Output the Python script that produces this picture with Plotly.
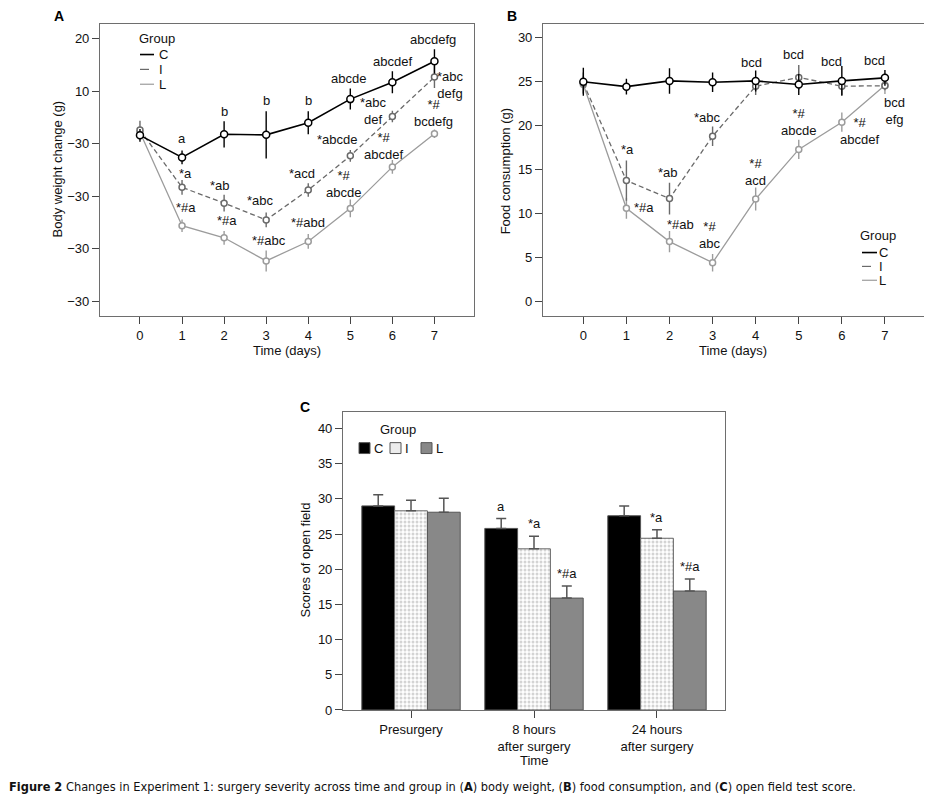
import plotly.graph_objects as go

W, H = 932, 806
FONT = "Liberation Sans, Arial, sans-serif"

# ---------------- data ----------------
groups = ["C", "I", "L"]
days = [0, 1, 2, 3, 4, 5, 6, 7]

# Panel A: body weight change (g)
bw_C = [1.6, -2.6, 1.8, 1.7, 4.0, 8.5, 11.7, 15.7]
bw_C_err = [1.2, 1.3, 2.5, 4.5, 2.2, 2.0, 2.1, 2.3]
bw_I = [2.6, -8.3, -11.3, -14.5, -8.8, -2.3, 5.2, 12.7]
bw_I_err = [1.8, 1.4, 1.6, 1.4, 1.3, 1.1, 1.1, 2.1]
bw_L = [2.2, -15.6, -17.9, -22.3, -18.6, -12.3, -4.4, 1.9]
bw_L_err = [1.0, 1.2, 1.3, 2.0, 1.4, 1.7, 1.3, 0.8]
bw_tickvals = [20, 10, 0, -10, -20, -30]
bw_ticktext = ["20", "10", "\u221230", "\u221230", "\u221230", "\u221230"]
bw_lab_C = ["", "a", "b", "b", "b", "abcde", "abcdef", "abcdefg"]
bw_lab_I = ["", "*a", "*ab", "*abc", "*acd", "*abcde", "*abc<br>def", "*abc<br>defg"]
bw_lab_L = ["", "*#a", "*#a", "*#abc", "*#abd", "*#<br>abcde", "*#<br>abcdef", "*#<br>bcdefg"]

# Panel B: food consumption (g)
fc_C = [25.0, 24.45, 25.1, 24.95, 25.1, 24.7, 25.1, 25.45]
fc_C_err = [1.6, 0.9, 1.45, 1.1, 1.2, 1.2, 1.7, 0.9]
fc_I = [24.85, 13.75, 11.7, 18.8, 24.5, 25.5, 24.5, 24.55]
fc_I_err = [1.2, 2.3, 1.8, 1.1, 1.0, 1.4, 1.0, 0.5]
fc_L = [24.7, 10.6, 6.8, 4.4, 11.65, 17.3, 20.4, 24.6]
fc_L_err = [1.0, 1.2, 1.2, 1.0, 1.3, 1.1, 1.1, 1.0]
fc_lab_I = ["", "*a", "*ab", "*abc", "bcd", "bcd", "bcd", "bcd"]
fc_lab_L = ["", "*#a", "*#ab", "*#<br>abc", "*#<br>acd", "*#<br>abcde", "*#<br>abcdef", "bcd<br>efg"]

# Panel C: open field scores
of_cats = ["Presurgery", "8 hours<br>after surgery", "24 hours<br>after surgery"]
of_C = [29.0, 25.8, 27.6]
of_C_err = [1.6, 1.4, 1.4]
of_I = [28.3, 22.9, 24.4]
of_I_err = [1.5, 1.8, 1.2]
of_L = [28.1, 15.9, 16.9]
of_L_err = [2.0, 1.7, 1.7]
of_lab_C = ["", "a", ""]
of_lab_I = ["", "*a", "*a"]
of_lab_L = ["", "*#a", "*#a"]

# ---------------- styles / label offsets (px) ----------------
COL_C, COL_I, COL_L = "#000000", "#6a6a6a", "#9c9c9c"
sh_bw_C = [(0, 0), (0, 19), (0, 23), (0, 34), (0, 22), (-2, 21), (0, 21), (-1, 22)]
sh_bw_I = [(0, 0), (3, 14), (-4, 18), (-6, 19), (-6, 17), (-13, 16), (-19, 5), (16, -8)]
sh_bw_L = [(0, 0), (4, 18), (3, 17), (3, 20), (0, 19), (-7, 24), (-9, 21), (-1, 21)]
sh_fc_I = [(0, 0), (1, 31), (-2, 26), (-5, 19), (-4, 24), (-5, 23), (-10, 25), (-10, 25)]
sh_fc_L = [(0, 0), (18, 1), (11, 17), (-3, 28), (0, 27), (0, 27), (18, -9), (10, -26)]

# page body margin of the html page (8px) compensated here
OFF = 8


def px(x):
    return (x - OFF) / W


def py(y):
    return 1 - (y - OFF) / H


fig = go.Figure()


def line_trace(x, y, err, color, dash, width, msize, xa, ya):
    fig.add_trace(go.Scatter(
        x=x, y=y, mode="lines+markers", xaxis=xa, yaxis=ya, showlegend=False,
        line=dict(color=color, width=width, dash=dash),
        marker=dict(symbol="circle", size=msize, color="white",
                    line=dict(color=color, width=1.5)),
        error_y=dict(type="data", array=err, visible=True, width=0,
                     thickness=1.4, color=color),
    ))


# Panel A
line_trace(days, bw_L, bw_L_err, COL_L, "solid", 1.3, 6, "x", "y")
line_trace(days, bw_I, bw_I_err, COL_I, "5px,3px", 1.3, 6, "x", "y")
line_trace(days, bw_C, bw_C_err, COL_C, "solid", 1.6, 7, "x", "y")
# Panel B
line_trace(days, fc_L, fc_L_err, COL_L, "solid", 1.3, 6, "x2", "y2")
line_trace(days, fc_I, fc_I_err, COL_I, "5px,3px", 1.3, 6, "x2", "y2")
line_trace(days, fc_C, fc_C_err, COL_C, "solid", 1.6, 7, "x2", "y2")

# Panel C bars
bar_specs = [
    (of_C, of_C_err, dict(color="#000000", line=dict(color="#555555", width=1))),
    (of_I, of_I_err, dict(color="white", line=dict(color="#666666", width=1),
                          pattern=dict(shape=".", fgcolor="#a8a8a8", bgcolor="white",
                                       size=4, solidity=0.45))),
    (of_L, of_L_err, dict(color="#888888", line=dict(color="#555555", width=1))),
]
for vals, errs, mk in bar_specs:
    fig.add_trace(go.Bar(
        x=of_cats, y=vals, xaxis="x3", yaxis="y3", showlegend=False, marker=mk,
        error_y=dict(type="data", array=errs, arrayminus=[0] * len(errs),
                     symmetric=False, visible=True, width=5, thickness=1.5,
                     color="#555555"),
    ))

annotations = []
afont = dict(family=FONT, size=13, color="#111111")


def add_labels(texts, xs, ys, shifts, xr, yr):
    for t, x, y, (dx, dy) in zip(texts, xs, ys, shifts):
        if t:
            annotations.append(dict(x=x, y=y, xref=xr, yref=yr, text=t, showarrow=False,
                                    xshift=dx, yshift=dy, font=afont, align="center"))


add_labels(bw_lab_C, days, bw_C, sh_bw_C, "x", "y")
add_labels(bw_lab_I, days, bw_I, sh_bw_I, "x", "y")
add_labels(bw_lab_L, days, bw_L, sh_bw_L, "x", "y")
add_labels(fc_lab_I, days, fc_I, sh_fc_I, "x2", "y2")
add_labels(fc_lab_L, days, fc_L, sh_fc_L, "x2", "y2")

# bar labels
for labs, vals, errs, off in [(of_lab_C, of_C, of_C_err, -33),
                              (of_lab_I, of_I, of_I_err, 0),
                              (of_lab_L, of_L, of_L_err, 33)]:
    for c, t, v, e in zip(of_cats, labs, vals, errs):
        if t:
            annotations.append(dict(x=c, y=v + e, xref="x3", yref="y3", text=t,
                                    showarrow=False, xshift=off, yshift=3,
                                    yanchor="bottom", font=afont))

# axis titles
tfont = dict(family=FONT, size=13, color="#111111")
for text, x, y, ang in [("Body weight change (g)", 57, 171, -90),
                        ("Food consumption (g)", 505, 173, -90),
                        ("Scores of open field", 305, 566, -90),
                        ("Time (days)", 287, 354, 0),
                        ("Time (days)", 733, 354, 0),
                        ("Time", 534, 768, 0)]:
    annotations.append(dict(x=px(x), y=py(y), xref="paper", yref="paper", text=text,
                            showarrow=False, textangle=ang, font=tfont,
                            xanchor="center", yanchor="middle"))

# panel letters
for t, x, y in [("A", 52, 16), ("B", 505, 16), ("C", 298, 411)]:
    annotations.append(dict(x=px(x), y=py(y), xref="paper", yref="paper",
                            text="<b>%s</b>" % t, showarrow=False, xanchor="left",
                            yanchor="middle", font=dict(family=FONT, size=14, color="#000")))

# caption
annotations.append(dict(
    x=px(7), y=py(794), xref="paper", yref="paper", xanchor="left", yanchor="middle",
    showarrow=False,
    text="<b>Figure 2</b> Changes in Experiment 1: surgery severity across time and group in "
         "(<b>A</b>) body weight, (<b>B</b>) food consumption, and (<b>C</b>) open field test score.",
    font=dict(family="Liberation Sans Narrow, DejaVu Sans Condensed, Arial", size=12.7, color="#111")))

shapes = []
# line legends
for gx, gy, lx0, lx1, tx, ys in [(137, 39, 140, 154, 157, [55, 70, 85]),
                                 (858, 238, 862, 877, 877, [255, 269, 283])]:
    annotations.append(dict(x=px(gx), y=py(gy), xref="paper", yref="paper", text="Group",
                            showarrow=False, xanchor="left", yanchor="middle", font=afont))
    for g, col, dash, yy in zip(groups, [COL_C, COL_I, COL_L], ["solid", "dash", "solid"], ys):
        shapes.append(dict(type="line", xref="paper", yref="paper", x0=px(lx0), x1=px(lx1),
                           y0=py(yy), y1=py(yy), line=dict(color=col, width=1.6 if g == "C" else 1.2,
                                                           dash=dash)))
        annotations.append(dict(x=px(tx), y=py(yy), xref="paper", yref="paper", text=g,
                                showarrow=False, xanchor="left", yanchor="middle", font=afont))

# bar legend
annotations.append(dict(x=px(378), y=py(434), xref="paper", yref="paper", text="Group",
                        showarrow=False, xanchor="left", yanchor="middle", font=afont))
for g, fillc, x0, tx in [("C", "#000000", 359, 372), ("I", "#ececec", 390, 403), ("L", "#888888", 421, 434)]:
    shapes.append(dict(type="rect", xref="paper", yref="paper", x0=px(x0), x1=px(x0 + 11),
                       y0=py(458), y1=py(447), fillcolor=fillc, line=dict(color="#555", width=1)))
    annotations.append(dict(x=px(tx), y=py(453), xref="paper", yref="paper", text=g,
                            showarrow=False, xanchor="left", yanchor="middle", font=afont))

axis_common = dict(showline=True, mirror=True, linecolor="#6e6e6e", linewidth=1.1,
                   ticks="outside", ticklen=7, tickcolor="#444444", tickwidth=1,
                   showgrid=False, zeroline=False,
                   tickfont=dict(family=FONT, size=13, color="#111111"))

fig.update_layout(
    width=W, height=H, margin=dict(l=0, r=0, t=0, b=0),
    paper_bgcolor="white", plot_bgcolor="white",
    barmode="group", bargap=0.2, bargroupgap=0,
    annotations=annotations, shapes=shapes,
    xaxis=dict(domain=[px(100), px(474)], range=[-0.95, 7.94], anchor="y",
               tickvals=days, **axis_common),
    yaxis=dict(domain=[py(319), py(24)], range=[-32.77, 22.83], anchor="x",
               tickvals=bw_tickvals, ticktext=bw_ticktext, **axis_common),
    xaxis2=dict(domain=[px(543), px(925)], range=[-0.936, 7.93], anchor="y2",
                tickvals=days, **axis_common),
    yaxis2=dict(domain=[py(319), py(24)], range=[-1.66, 31.6], anchor="x2",
                tickvals=[0, 5, 10, 15, 20, 25, 30], **axis_common),
    xaxis3=dict(domain=[px(343), px(725)], range=[-0.553, 2.553], anchor="y3",
                type="category", **axis_common),
    yaxis3=dict(domain=[py(717), py(416)], range=[0, 42.35], anchor="x3",
                tickvals=[0, 5, 10, 15, 20, 25, 30, 35, 40], **axis_common),
)

fig.write_html("out.html")
